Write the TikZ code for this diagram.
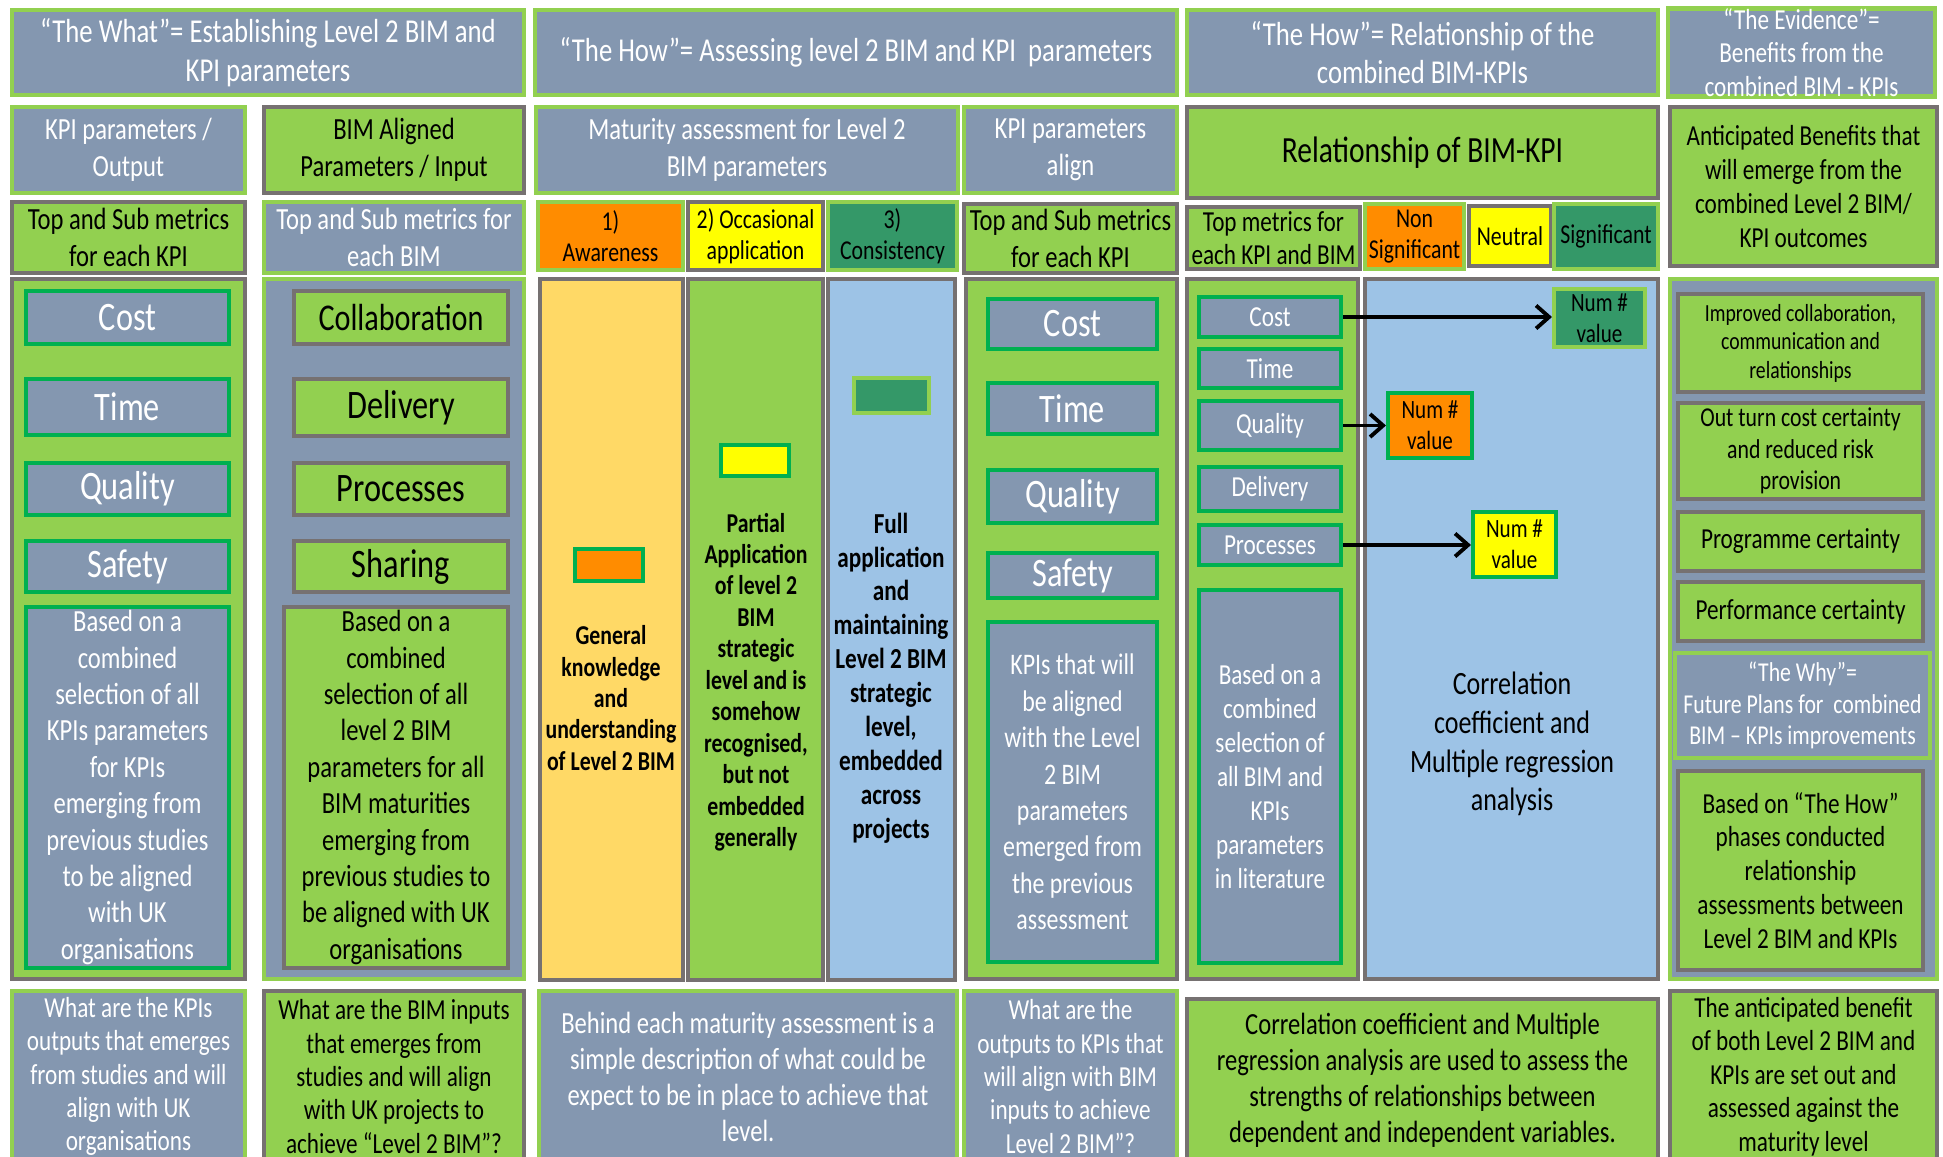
\documentclass[tikz,border=0pt]{standalone}
\usepackage{fontspec}
\setmainfont[FakeStretch=0.8]{Carlito}
\usetikzlibrary{arrows.meta}
\definecolor{bimgray}{RGB}{132,151,176}
\definecolor{bimlime}{RGB}{146,208,80}
\definecolor{bimgreen}{RGB}{0,176,80}
\definecolor{bimedge}{RGB}{118,113,113}
\definecolor{bimorange}{RGB}{255,140,0}
\definecolor{bimyellow}{RGB}{255,255,0}
\definecolor{bimteal}{RGB}{52,152,104}
\definecolor{bimpeach}{RGB}{255,217,102}
\definecolor{bimblue}{RGB}{157,195,230}
\begin{document}
\begin{tikzpicture}[x=0.02cm,y=-0.02cm,
  area/.style n args={4}{at={({(#1+#3)/2},{(#2+#4)/2})},minimum width={(#3-#1)*0.02cm},minimum height={(#4-#2)*0.02cm}},
  cell/.style={inner sep=0pt,align=center,line width=2.6pt},
  gcell/.style={cell,draw=bimlime,fill=bimgray,text=white},
  lcell/.style={cell,draw=bimedge,fill=bimlime,text=black},
  kcell/.style={cell,draw=bimgreen,fill=bimgray,text=white,line width=2.3pt},
  ecell/.style={cell,draw=bimedge,fill=bimlime,text=black,line width=2.3pt},
  fs/.style 2 args={font=\fontsize{#1}{#2}\selectfont},
  fsb/.style 2 args={font=\fontsize{#1}{#2}\selectfont\bfseries},
  bimarrow/.style={-{Straight Barb[length=2.6mm,width=4.6mm]},line width=2.2pt,black}]
  \useasboundingbox (0,0) rectangle (1943,1156);
  \clip (0,0) rectangle (1943,1156);
  \node[gcell,area={12}{10}{524}{95},fs={19}{22}] (what) {“The What”= Establishing Level 2 BIM and\\KPI parameters};
  \node[gcell,area={535}{10}{1177}{95},fs={19}{22}] (howassess) {“The How”= Assessing level 2 BIM and KPI~~parameters};
  \node[gcell,area={1187}{10}{1658}{95},fs={19}{22}] (howrel) {“The How”= Relationship of the\\combined BIM-KPIs};
  \node[gcell,area={1668}{10}{1935}{95},fs={16.5}{19}] (evidence) {“The Evidence”=\\Benefits from the\\combined BIM - KPIs};
  \node[gcell,area={12}{107}{245}{193},fs={17.5}{21}] (kpiout) {KPI parameters /\\Output};
  \node[lcell,area={264}{107}{524}{193},fs={17.5}{21}] (bimin) {BIM Aligned\\Parameters / Input};
  \node[gcell,area={536}{107}{958}{193},fs={17.5}{21}] (matur) {Maturity assessment for Level 2\\BIM parameters};
  \node[gcell,area={964}{107}{1177}{193},fs={17.5}{21}] (kpialign) {KPI parameters\\align};
  \node[lcell,area={1187}{107}{1658}{198},fs={21}{25}] (rel) {Relationship of BIM-KPI};
  \node[lcell,area={1670}{107}{1937}{266},fs={16.5}{19.5}] (antic) {Anticipated Benefits that\\will emerge from the\\combined Level 2 BIM/\\KPI outcomes};
  \node[lcell,area={12}{202}{245}{273},fs={17.5}{21}] (topkpi) {Top and Sub metrics\\for each KPI};
  \node[gcell,area={264}{202}{524}{273},fs={17.5}{21}] (topbim) {Top and Sub metrics for\\each BIM};
  \node[cell,draw=bimlime,fill=bimorange,area={538}{202}{683}{270},fs={15.5}{17.8}] (aware) {1)\\Awareness};
  \node[cell,draw=bimedge,fill=bimyellow,area={688}{202}{823}{270},fs={15.5}{17.8}] (occas) {2) Occasional\\application};
  \node[cell,draw=bimlime,fill=bimteal,area={828}{202}{957}{270},fs={15.5}{17.8}] (consis) {3)\\Consistency};
  \node[lcell,area={964}{204}{1177}{273},fs={17.5}{21}] (topkpi2) {Top and Sub metrics\\for each KPI};
  \node[lcell,area={1187}{207}{1360}{269},fs={16.5}{19}] (topmet) {Top metrics for\\each KPI and BIM};
  \node[cell,draw=bimlime,fill=bimorange,area={1365}{204}{1464}{269},fs={15.5}{18}] (nonsig) {Non\\Significant};
  \node[cell,draw=bimedge,fill=bimyellow,area={1469}{206}{1551}{266},fs={15.5}{18}] (neutral) {Neutral};
  \node[cell,draw=bimlime,fill=bimteal,area={1554}{204}{1658}{269},fs={15.5}{18}] (signif) {Significant};
  \node[lcell,area={12}{279}{245}{979}] (kpicol) {};
  \node[kcell,area={26}{291}{229}{344},fs={23}{26}] (kpicost) {Cost};
  \node[kcell,area={26}{379}{229}{435},fs={23}{26}] (kpitime) {Time};
  \node[kcell,area={26}{463}{229}{515},fs={23}{26}] (kpiqual) {Quality};
  \node[kcell,area={26}{541}{229}{592},fs={23}{26}] (kpisafe) {Safety};
  \node[kcell,area={26}{607}{229}{968},fs={17.5}{20.7}] (kpibased) {Based on a\\combined\\selection of all\\KPIs parameters\\for KPIs\\emerging from\\previous studies\\to be aligned\\with UK\\organisations};
  \node[gcell,area={264}{279}{524}{979}] (bimcol) {};
  \node[ecell,area={294}{291}{508}{344},fs={21.5}{26}] (bimcollab) {Collaboration};
  \node[ecell,area={294}{379}{508}{436},fs={23}{26}] (bimdeliv) {Delivery};
  \node[ecell,area={294}{463}{508}{515},fs={23}{26}] (bimproc) {Processes};
  \node[ecell,area={294}{541}{508}{592},fs={23}{26}] (bimshare) {Sharing};
  \node[ecell,area={284}{607}{508}{968},fs={17.5}{20.7}] (bimbased) {Based on a\\combined\\selection of all\\level 2 BIM\\parameters for all\\BIM maturities\\emerging from\\previous studies to\\be aligned with UK\\organisations};
  \node[cell,draw=bimedge,fill=bimpeach,area={540}{279}{683}{980}] (awarecol) {};
  \node[cell,draw=bimgreen,fill=bimorange,line width=2.3pt,area={575}{549}{643}{581}] (awaremark) {};
  \node[fsb={15.5}{17.8},align=center] (awaretext) at (611,698) {General\\knowledge\\and\\understanding\\of Level 2 BIM};
  \node[lcell,area={688}{279}{823}{980}] (occascol) {};
  \node[cell,draw=bimgreen,fill=bimyellow,line width=2.3pt,area={721}{445}{789}{476}] (occasmark) {};
  \node[fsb={15.5}{17.9},align=center] (occastext) at (756,682) {Partial\\Application\\of level 2\\BIM\\strategic\\level and is\\somehow\\recognised,\\but not\\embedded\\generally};
  \node[cell,draw=bimedge,fill=bimblue,area={828}{279}{955}{980}] (consiscol) {};
  \node[cell,draw=bimlime,fill=bimteal,line width=2.3pt,area={854}{378}{929}{413}] (consismark) {};
  \node[fsb={16.5}{19.3},align=center] (consistext) at (891,678) {Full\\application\\and\\maintaining\\Level 2 BIM\\strategic\\level,\\embedded\\across\\projects};
  \node[lcell,area={966}{279}{1177}{979}] (aligncol) {};
  \node[kcell,area={988}{299}{1157}{349},fs={23}{26}] (aligncost) {Cost};
  \node[kcell,area={988}{383}{1157}{434},fs={23}{26}] (aligntime) {Time};
  \node[kcell,area={988}{470}{1157}{523},fs={23}{26}] (alignqual) {Quality};
  \node[kcell,area={988}{553}{1157}{598},fs={23}{26}] (alignsafe) {Safety};
  \node[kcell,area={988}{622}{1157}{962},fs={17}{20.7}] (alignkpis) {KPIs that will\\be aligned\\with the Level\\2 BIM\\parameters\\emerged from\\the previous\\assessment};
  \node[lcell,area={1187}{279}{1358}{979}] (relcol) {};
  \node[kcell,area={1199}{297}{1341}{337},fs={16.5}{19}] (relcost) {Cost};
  \node[kcell,area={1199}{349}{1341}{388},fs={16.5}{19}] (reltime) {Time};
  \node[kcell,area={1199}{401}{1341}{450},fs={16.5}{19}] (relqual) {Quality};
  \node[kcell,area={1199}{467}{1341}{511},fs={16.5}{19}] (reldeliv) {Delivery};
  \node[kcell,area={1199}{525}{1341}{565},fs={16.5}{19}] (relproc) {Processes};
  \node[kcell,area={1199}{590}{1341}{963},fs={16.5}{19.3}] (relbased) {Based on a\\combined\\selection of\\all BIM and\\KPIs\\parameters\\in literature};
  \node[cell,draw=bimedge,fill=bimblue,area={1365}{279}{1658}{979}] (corrcol) {};
  \node[cell,draw=bimlime,fill=bimteal,line width=2.3pt,area={1554}{289}{1645}{347},fs={15}{17.8}] (valsig) {Num \#\\value};
  \node[cell,draw=bimgreen,fill=bimorange,line width=2.3pt,area={1388}{393}{1472}{458},fs={15}{17.8}] (valnon) {Num \#\\value};
  \node[cell,draw=bimgreen,fill=bimyellow,line width=2.3pt,area={1473}{512}{1556}{577},fs={15}{17.8}] (valneu) {Num \#\\value};
  \node[fs={18.5}{22},align=center] (corrtext) at (1512,744) {Correlation\\coefficient and\\Multiple regression\\analysis};
  \draw[bimarrow] (relcost.east) -- (relcost.east -| valsig.west);
  \draw[bimarrow] (relqual.east) -- (relqual.east -| valnon.west);
  \draw[bimarrow] (relproc.east) -- (relproc.east -| valneu.west);
  \node[gcell,area={1670}{279}{1937}{979}] (evidcol) {};
  \node[ecell,area={1678}{294}{1923}{392},fs={14}{16.2}] (benefcollab) {Improved collaboration,\\communication and\\relationships};
  \node[ecell,area={1678}{403}{1923}{499},fs={15.5}{17.8}] (benefcost) {Out turn cost certainty\\and reduced risk\\provision};
  \node[ecell,area={1678}{512}{1923}{571},fs={16.5}{19}] (benefprog) {Programme certainty};
  \node[ecell,area={1678}{582}{1923}{641},fs={16.5}{19}] (benefperf) {Performance certainty};
  \node[cell,draw=bimlime,fill=bimgray,text=white,line width=2.3pt,area={1675}{653}{1930}{758},fs={15.5}{17.8}] (why) {“The Why”=\\Future Plans for~~combined\\BIM – KPIs improvements};
  \node[ecell,area={1678}{771}{1923}{970},fs={16.5}{19.3}] (basedhow) {Based on “The How”\\phases conducted\\relationship\\assessments between\\Level 2 BIM and KPIs};
  \node[gcell,area={12}{991}{245}{1162},fs={16.5}{19}] (kpiq) {What are the KPIs\\outputs that emerges\\from studies and will\\align with UK\\organisations};
  \node[lcell,area={264}{991}{524}{1162},fs={16.5}{19}] (bimq) {What are the BIM inputs\\that emerges from\\studies and will align\\with UK projects to\\achieve “Level 2 BIM”?};
  \node[gcell,area={539}{991}{957}{1162},fs={17.5}{20.5}] (matq) {Behind each maturity assessment is a\\simple description of what could be\\expect to be in place to achieve that\\level.};
  \node[gcell,area={964}{991}{1177}{1162},fs={16.5}{19}] (alignq) {What are the\\outputs to KPIs that\\will align with BIM\\inputs to achieve\\Level 2 BIM”?};
  \node[lcell,area={1187}{999}{1658}{1162},fs={17.5}{20.5}] (corrq) {Correlation coefficient and Multiple\\regression analysis are used to assess the\\strengths of relationships between\\dependent and independent variables.};
  \node[lcell,area={1670}{991}{1937}{1162},fs={16.5}{19}] (evidq) {The anticipated benefit\\of both Level 2 BIM and\\KPIs are set out and\\assessed against the\\maturity level};
\end{tikzpicture}
\end{document}
